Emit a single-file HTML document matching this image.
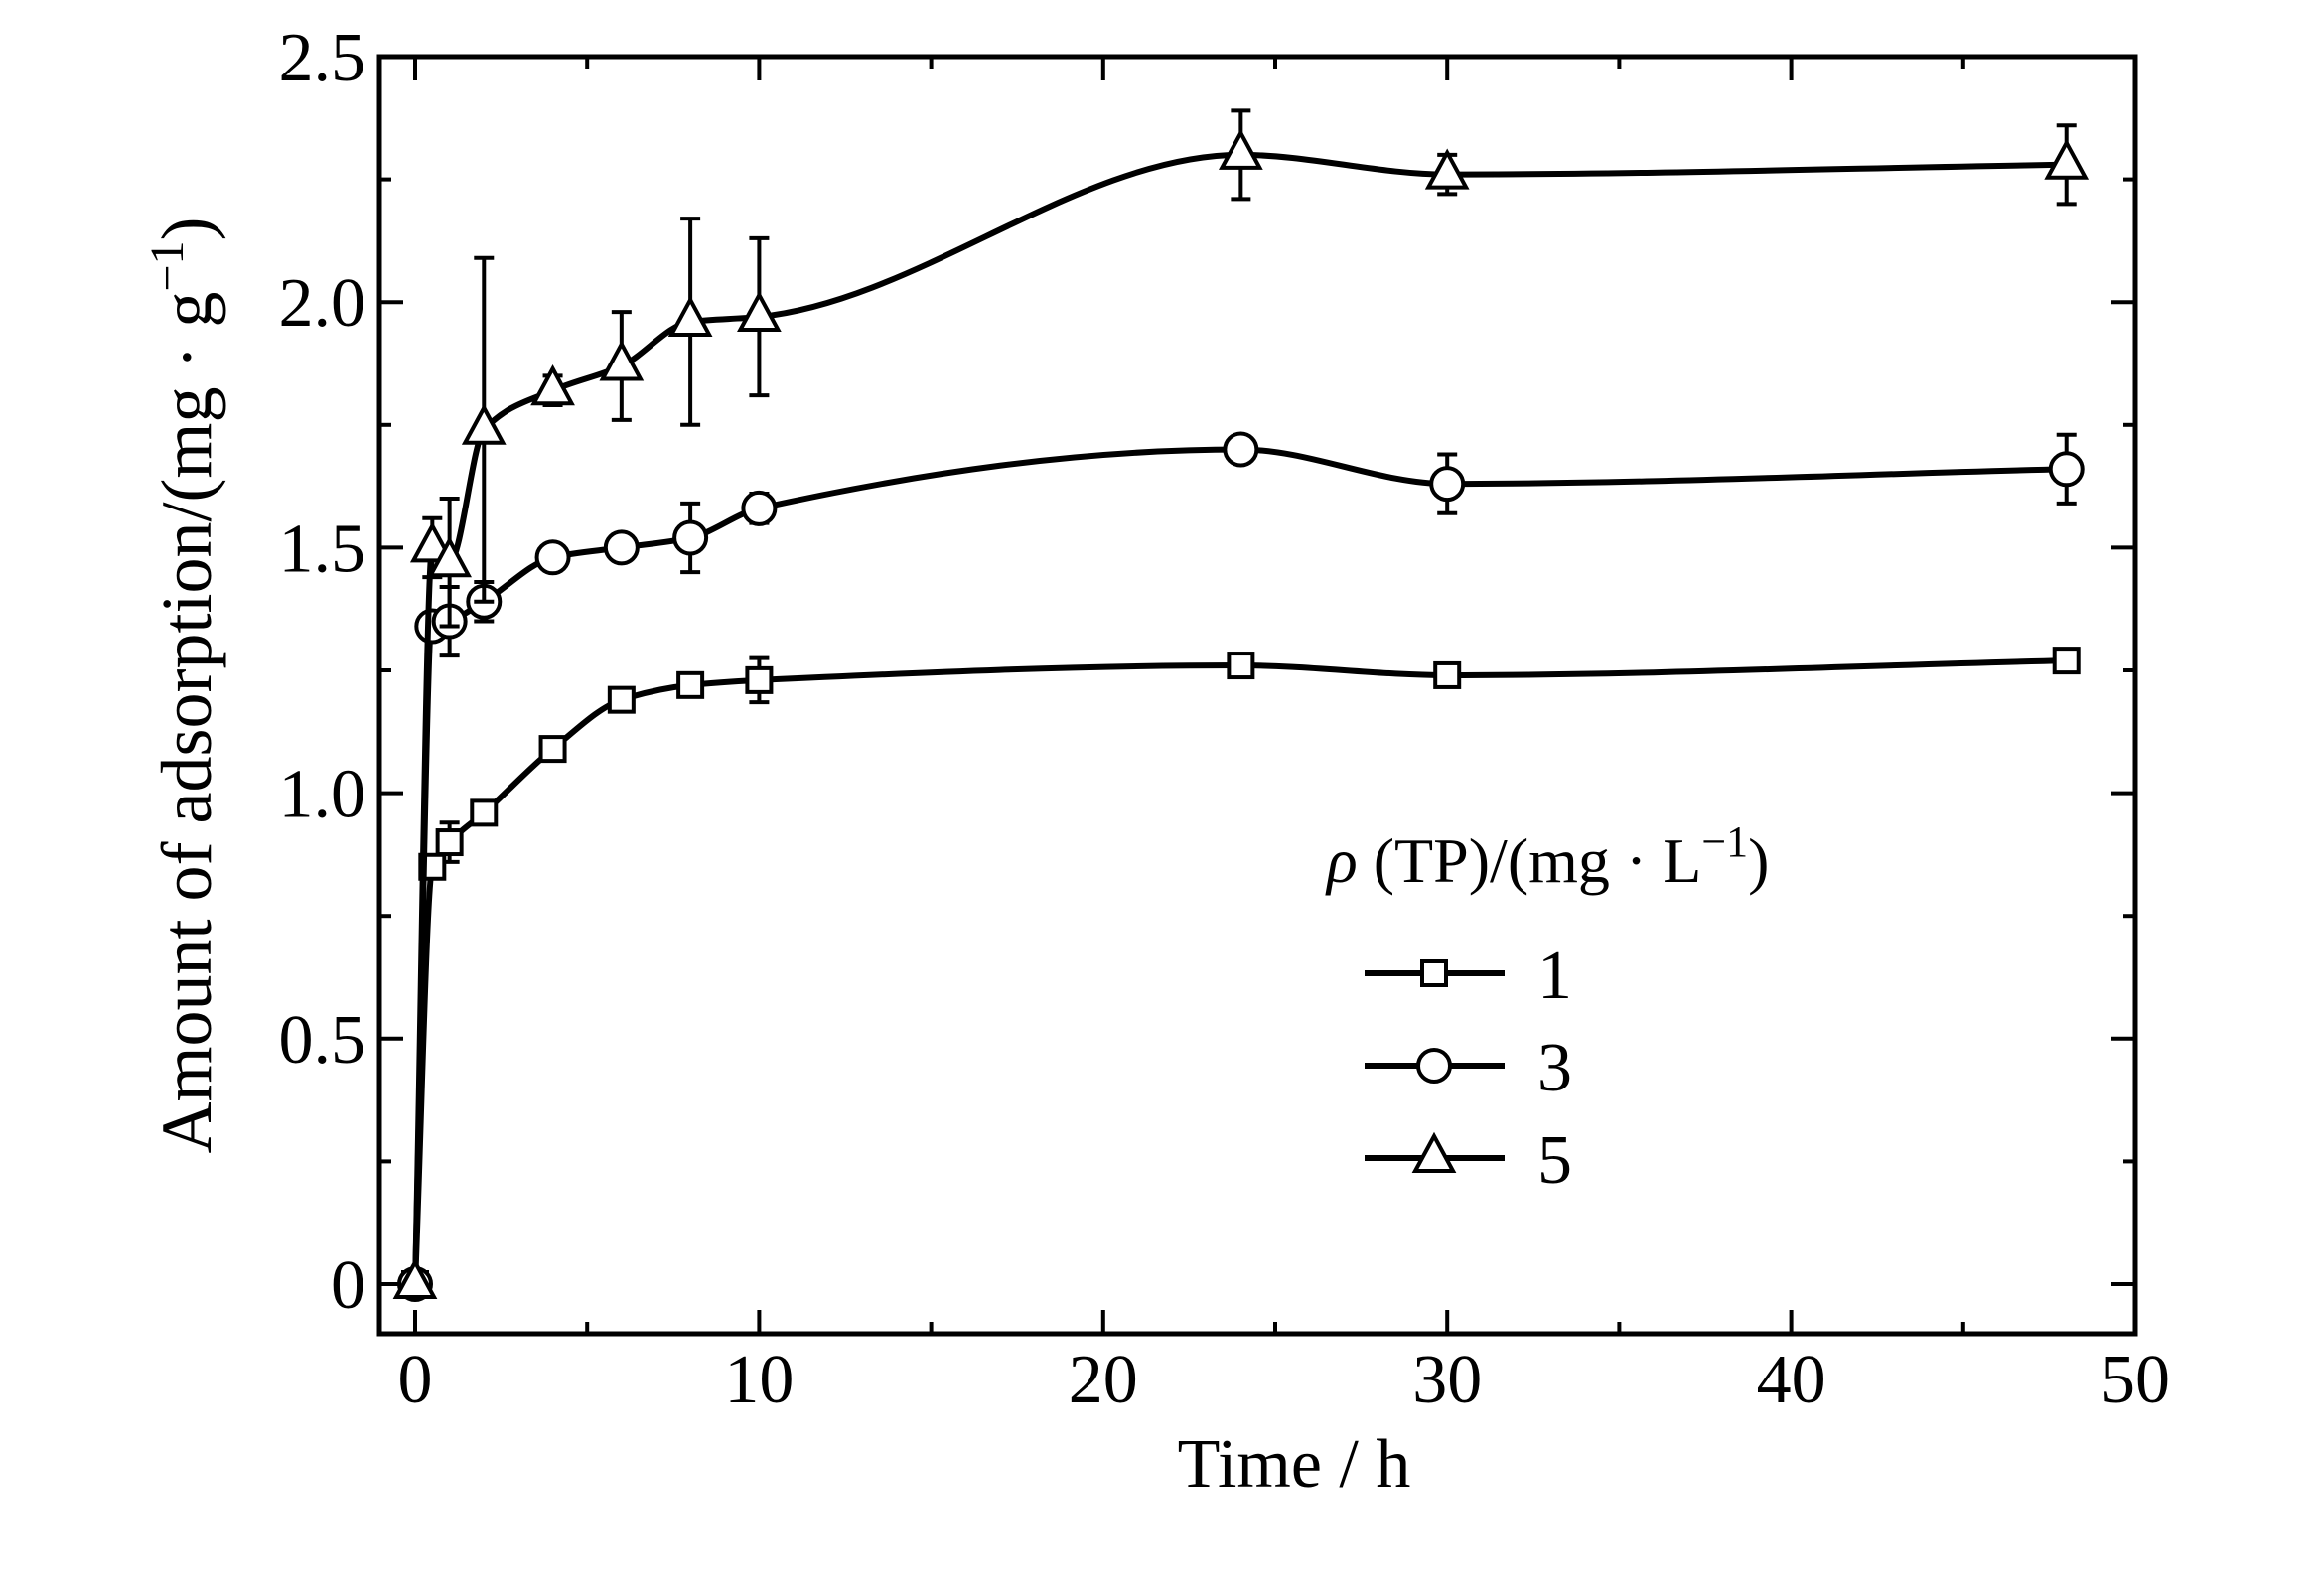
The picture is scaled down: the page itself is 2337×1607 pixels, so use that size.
<!DOCTYPE html>
<html><head><meta charset="utf-8"><style>
html,body{margin:0;padding:0;background:#fff}
svg{display:block}
text{font-family:"Liberation Serif",serif;fill:#000}
</style></head><body>
<svg id="chart" width="2337" height="1607" viewBox="0 0 2337 1607" xmlns="http://www.w3.org/2000/svg"></svg>
<script>
const times = [0, 0.5, 1, 2, 4, 6, 8, 10, 24, 30, 48];
const series1 = [0, 0.85, 0.90, 0.96, 1.09, 1.19, 1.22, 1.23, 1.26, 1.24, 1.27];
const err1 = [0.01, 0.01, 0.04, 0.01, 0.01, 0.01, 0.02, 0.045, 0.02, 0.02, 0.01];
const series3 = [0, 1.34, 1.35, 1.39, 1.48, 1.50, 1.52, 1.58, 1.70, 1.63, 1.66];
const err3 = [0.01, 0.01, 0.07, 0.04, 0.02, 0.02, 0.07, 0.03, 0.01, 0.06, 0.07];
const series5 = [0, 1.50, 1.47, 1.74, 1.82, 1.87, 1.96, 1.97, 2.30, 2.26, 2.28];
const err5 = [0.01, 0.06, 0.13, 0.35, 0.03, 0.11, 0.21, 0.16, 0.09, 0.04, 0.08];
const xTicks = [0, 10, 20, 30, 40, 50];
const yTicks = [0, 0.5, 1.0, 1.5, 2.0, 2.5];
const yTickLabels = ["0", "0.5", "1.0", "1.5", "2.0", "2.5"];
const legendLabels = ["1", "3", "5"];

const NS = "http://www.w3.org/2000/svg";
const svg = document.getElementById("chart");
const L = 382, R = 2150, T = 57, B = 1343;
const X0 = 418, X50 = 2150, Y0 = 1293, Y25 = 57;
function sx(v){ return X0 + (X50 - X0) * v / 50; }
function sy(v){ return Y0 - (Y0 - Y25) * v / 2.5; }
function el(tag, attrs, parent){
  const e = document.createElementNS(NS, tag);
  for (const k in attrs) e.setAttribute(k, attrs[k]);
  (parent || svg).appendChild(e);
  return e;
}

const frame = el("rect", {x:L, y:T, width:R-L, height:B-T, fill:"none", stroke:"#000", "stroke-width":5});



for (let v = 0; v <= 50; v += 5) {
  const major = v % 10 === 0;
  const len = major ? 24 : 12;
  const x = sx(v);
  const t1 = el("line", {x1:x, y1:B, x2:x, y2:B-len, stroke:"#000", "stroke-width":4});
  
  
  const t2 = el("line", {x1:x, y1:T, x2:x, y2:T+len, stroke:"#000", "stroke-width":4});
  
  
}
xTicks.forEach(v => {
  const t = el("text", {x:sx(v), y:1412, "font-size":70, "text-anchor":"middle"});
  t.textContent = String(v);
  
  
});
for (let i = 0; i <= 10; i++) {
  const v = i * 0.25;
  const major = i % 2 === 0;
  const len = major ? 24 : 12;
  const y = sy(v);
  const t1 = el("line", {x1:L, y1:y, x2:L+len, y2:y, stroke:"#000", "stroke-width":4});
  
  
  const t2 = el("line", {x1:R, y1:y, x2:R-len, y2:y, stroke:"#000", "stroke-width":4});
  
  
}
yTicks.forEach((v, i) => {
  const t = el("text", {x:368, y:sy(v)+24, "font-size":70, "text-anchor":"end"});
  t.textContent = yTickLabels[i];
  
  
});

const xt = el("text", {x:1303, y:1497, "font-size":70, "text-anchor":"middle"});
xt.textContent = "Time / h";


const yt = el("text", {x:0, y:0, "font-size":72, "text-anchor":"middle", transform:"translate(212,690) rotate(-90)"});
yt.innerHTML = 'Amount of adsorption/(mg · g<tspan dy="-28" font-size="48">−1</tspan><tspan dy="28">)</tspan>';



// monotone cubic (Fritsch-Carlson) interpolation
function smoothPath(xs, ys){
  const px = xs.map(sx), py = ys.map(sy);
  const n = px.length;
  const d = [], m = new Array(n);
  for (let i = 0; i < n-1; i++) d.push((py[i+1]-py[i])/(px[i+1]-px[i]));
  m[0] = d[0]; m[n-1] = d[n-2];
  for (let i = 1; i < n-1; i++) {
    if (d[i-1]*d[i] <= 0) m[i] = 0;
    else {
      const h0 = px[i]-px[i-1], h1 = px[i+1]-px[i];
      const w1 = 2*h1 + h0, w2 = h1 + 2*h0;
      m[i] = (w1 + w2) / (w1/d[i-1] + w2/d[i]);
    }
  }
  let s = "M" + px[0] + "," + py[0];
  for (let i = 0; i < n-1; i++) {
    const h = (px[i+1]-px[i])/3;
    s += " C" + (px[i]+h) + "," + (py[i]+m[i]*h) + " " + (px[i+1]-h) + "," + (py[i+1]-m[i+1]*h) + " " + px[i+1] + "," + py[i+1];
  }
  return s;
}
function marker(kind, x, y, parent){
  let m;
  if (kind === "square") m = el("rect", {x:x-12, y:y-12, width:24, height:24, fill:"#fff", stroke:"#000", "stroke-width":4}, parent);
  else if (kind === "circle") m = el("circle", {cx:x, cy:y, r:16, fill:"#fff", stroke:"#000", "stroke-width":4}, parent);
  else m = el("polygon", {points:(x)+","+(y-22)+" "+(x-19)+","+(y+13)+" "+(x+19)+","+(y+13), fill:"#fff", stroke:"#000", "stroke-width":4}, parent);
  return m;
}
function drawSeries(vals, errs, kind, name){
  const g = el("g", {});
  
  
  const path = el("path", {d:smoothPath(times, vals), fill:"none", stroke:"#000", "stroke-width":6}, g);
  
  
  times.forEach((t, i) => {
    const x = sx(t), yh = sy(vals[i]+errs[i]), yl = sy(vals[i]-errs[i]);
    const e = el("path", {d:"M"+x+","+yh+" V"+yl+" M"+(x-10)+","+yh+" H"+(x+10)+" M"+(x-10)+","+yl+" H"+(x+10), stroke:"#000", "stroke-width":4, fill:"none"}, g);
    
    
  });
  times.forEach((t, i) => {
    const m = marker(kind, sx(t), sy(vals[i]), g);
    
    
  });
}
drawSeries(series1, err1, "square", "series-1");
drawSeries(series3, err3, "circle", "series-3");
drawSeries(series5, err5, "triangle", "series-5");

const lg = el("g", {});


const lt = el("text", {x:1336, y:888, "font-size":64}, lg);
lt.innerHTML = '<tspan font-style="italic">ρ</tspan> (TP)/(mg · L<tspan dy="-26" font-size="44">−1</tspan><tspan dy="26">)</tspan>';


const kinds = ["square", "circle", "triangle"];
const ly = [980, 1073, 1166];
legendLabels.forEach((lab, i) => {
  const ln = el("line", {x1:1374, y1:ly[i], x2:1515, y2:ly[i], stroke:"#000", "stroke-width":6}, lg);
  
  
  const m = marker(kinds[i], 1444, ly[i], lg);
  
  
  const t = el("text", {x:1548, y:ly[i]+25, "font-size":70}, lg);
  t.textContent = lab;
  
  
});
</script>
</body></html>
